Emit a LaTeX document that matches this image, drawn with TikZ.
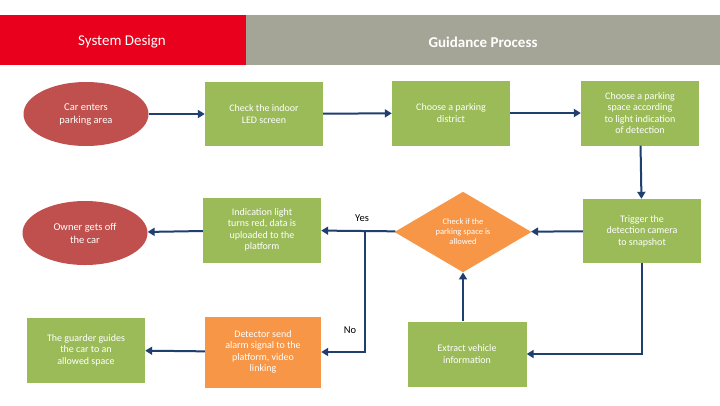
\documentclass[tikz,border=0pt]{standalone}
\usepackage{fontspec}
\setmainfont{Carlito}
\usetikzlibrary{shapes.geometric,arrows.meta}
\definecolor{gr}{HTML}{9BBB59}
\definecolor{rd}{HTML}{C0504D}
\definecolor{og}{HTML}{F79646}
\definecolor{ln}{HTML}{1F3F6F}
\definecolor{hd}{HTML}{E8001C}
\definecolor{gy}{HTML}{A5A597}
\tikzset{
 box/.style={fill=gr,text=white,align=center,font=\fontsize{10}{11.5}\selectfont,inner sep=0pt},
 ell/.style={ellipse,fill=rd,text=white,align=center,font=\fontsize{10.5}{13}\selectfont,inner sep=0pt},
 con/.style={draw=ln,line width=2pt,-{Triangle[length=7pt,width=8pt]}},
 lab/.style={font=\fontsize{10.5}{12}\selectfont,text=black}
}
\begin{document}
\begin{tikzpicture}[x=1pt,y=-1pt]
\useasboundingbox (0,0) rectangle (720,405);
\fill[white] (0,0) rectangle (720,405);
\fill[hd] (0,15) rectangle (246,65);
\fill[gy] (246,15) rectangle (720,65);
\node[text=white,font=\fontsize{15}{18}\selectfont] (h1) at (122,42) {System Design};
\node[text=white,font=\fontsize{15}{18}\selectfont\bfseries] (h2) at (483,42) {Guidance Process};
\node[ell,minimum width=125,minimum height=64] (e1) at (86,114) {Car enters\\parking area};
\node[ell,minimum width=125,minimum height=64] (e2) at (85,233) {Owner gets off\\the car};
\node[box,minimum width=118,minimum height=65] (g1) at (86,350) {The guarder guides\\the car to an\\allowed space};
\node[box,minimum width=118,minimum height=64] (b1) at (264,114) {Check the indoor\\LED screen};
\node[box,minimum width=118,minimum height=65] (b2) at (451,113) {Choose a parking\\district};
\node[box,minimum width=118,minimum height=65] (b3) at (640,113) {Choose a parking\\space according\\to light indication\\of detection};
\node[box,minimum width=118,minimum height=65] (b4) at (262,230) {Indication light\\turns red, data is\\uploaded to the\\platform};
\node[diamond,fill=og,text=white,align=center,font=\fontsize{8.5}{10}\selectfont,inner sep=0pt,minimum width=137,minimum height=75] (d) at (463,232) {Check if the\\parking space is\\allowed};
\node[box,minimum width=118,minimum height=64] (b5) at (642,231) {Trigger the\\detection camera\\to snapshot};
\node[box,fill=og,minimum width=116,minimum height=71] (o1) at (263,352) {Detector send\\alarm signal to the\\platform, video\\linking};
\node[box,minimum width=119,minimum height=65] (b6) at (467,354) {Extract vehicle\\information};
\coordinate (br) at (365,232);
\coordinate (c1) at (642,354);
\draw[con] (e1) -- (b1);
\draw[con] (b1) -- (b2);
\draw[con] (b2) -- (b3);
\draw[con] (b3) -- (b5);
\draw[con] (b5) -- (d);
\draw[con] (d) -- (b4);
\draw[con] (br) |- (o1);
\draw[con] (b4) -- (e2);
\draw[con] (o1) -- (g1);
\draw[con] (b5) -- (c1) -- (b6);
\draw[con] (b6.north -| d.south) -- (d.south);
\node[lab] (yes) at (362,218) {Yes};
\node[lab] (no) at (350,330) {No};
\end{tikzpicture}
\end{document}
